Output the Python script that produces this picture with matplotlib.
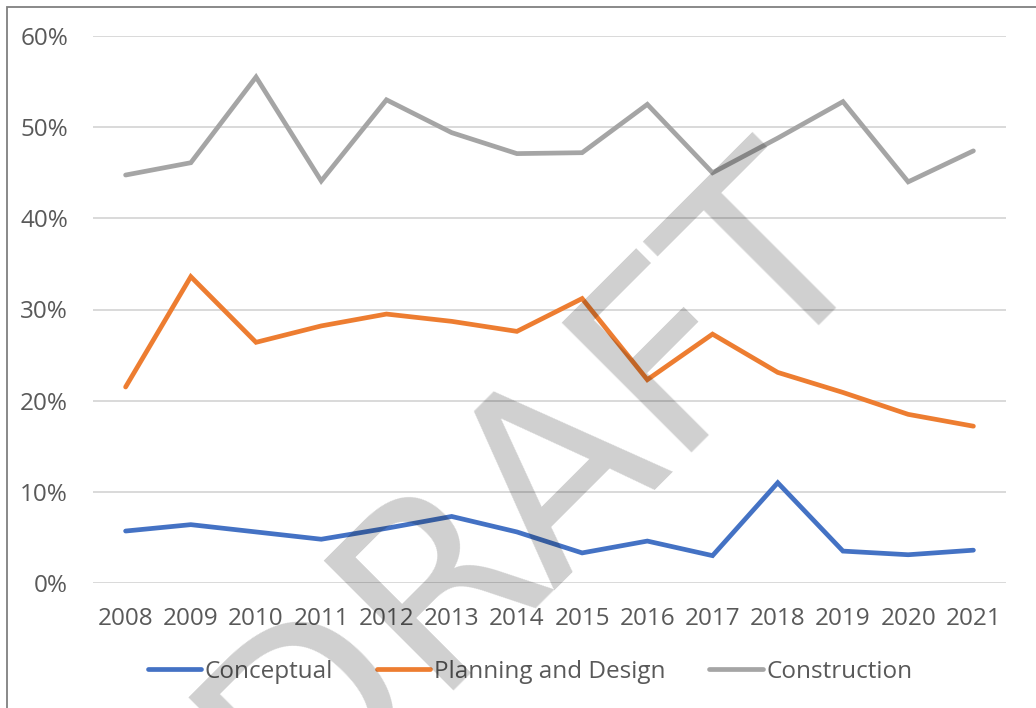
import matplotlib
matplotlib.use("Agg")
import matplotlib.pyplot as plt
from matplotlib.patches import Rectangle
from matplotlib.ticker import FuncFormatter

years = ["2008", "2009", "2010", "2011", "2012", "2013", "2014",
         "2015", "2016", "2017", "2018", "2019", "2020", "2021"]
conceptual = [5.7, 6.4, 5.6, 4.8, 6.0, 7.3, 5.6, 3.3, 4.6, 3.0, 11.0, 3.5, 3.1, 3.6]
planning = [21.5, 33.6, 26.4, 28.2, 29.5, 28.7, 27.6, 31.2, 22.3, 27.3, 23.1, 20.9, 18.5, 17.2]
construction = [44.75, 46.1, 55.5, 44.1, 53.0, 49.4, 47.1, 47.2, 52.5, 45.0, 48.8, 52.8, 44.0, 47.4]
series_names = ["Conceptual", "Planning and Design", "Construction"]
colors = ["#4472C4", "#ED7D31", "#A5A5A5"]
yticks = [0, 10, 20, 30, 40, 50, 60]

plt.rcParams['font.family'] = ['Open Sans', 'DejaVu Sans']
W, H = 1036, 708
fig = plt.figure(figsize=(W / 100, H / 100), dpi=100)
ax = fig.add_axes([93 / W, 1 - 583 / H, (1006 - 93) / W, (583 - 36) / H])

x = list(range(len(years)))
for vals, name, c in zip([conceptual, planning, construction], series_names, colors):
    ax.plot(x, vals, color=c, lw=3.4, label=name, solid_capstyle='round',
            solid_joinstyle='miter', clip_on=False, zorder=3)

ax.set_xlim(-0.5, len(years) - 0.5)
ax.set_ylim(0, 60)
ax.set_yticks(yticks)
ax.yaxis.set_major_formatter(FuncFormatter(lambda v, p: f"{int(v)}%"))
ax.set_xticks(x)
ax.set_xticklabels(years)
ax.grid(axis='y', color='#D9D9D9', lw=1.4)
ax.set_axisbelow(True)
for s in ax.spines.values():
    s.set_visible(False)
ax.tick_params(axis='both', length=0, labelsize=17.5, labelcolor='#595959')
ax.tick_params(axis='y', pad=18)
ax.tick_params(axis='x', pad=17)

leg = fig.legend(loc='center', bbox_to_anchor=(530 / W, 1 - 672 / H), ncol=3,
                 frameon=False, fontsize=17.5, handlelength=2.2, handletextpad=0.15,
                 columnspacing=1.8, borderaxespad=0)
for t in leg.get_texts():
    t.set_color('#595959')

# outer chart border (cropped at right and bottom)
fig.patches.append(Rectangle((7 / W, -0.1), 1.2, 1 - 7 / H + 0.1, transform=fig.transFigure,
                             fill=False, edgecolor='#808080', lw=1.3))

# watermark
fig.text(535 / W, 1 - 487 / H, "DRAFT", rotation=45, fontsize=181,
         family='DejaVu Sans', color='black', alpha=0.19, ha='center', va='center',
         zorder=10)

fig.savefig("out.png", dpi=100)
